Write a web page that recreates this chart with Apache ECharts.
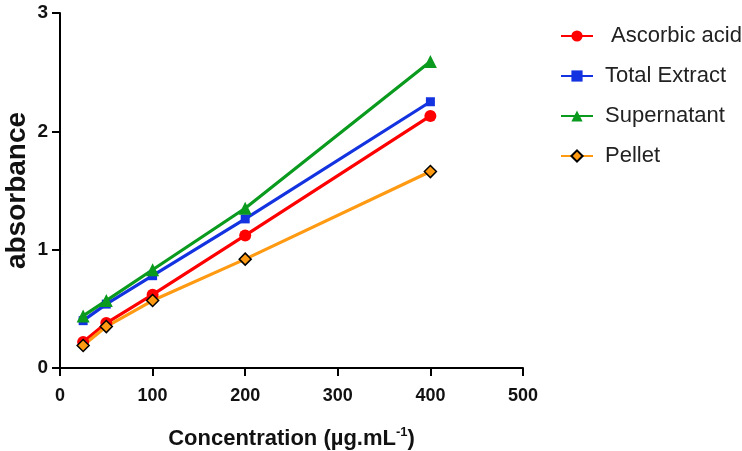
<!DOCTYPE html>
<html><head><meta charset="utf-8">
<script src="https://cdn.jsdelivr.net/npm/echarts@6/dist/echarts.min.js"></script>
<style>html,body{margin:0;padding:0;background:#fff}#c{width:742px;height:451px}</style>
</head><body><div id="c"></div>
<script>
const concentrations = [25, 50, 100, 200, 400];
const ascorbicAcid = [0.22, 0.38, 0.62, 1.12, 2.13];
const totalExtract = [0.40, 0.54, 0.78, 1.26, 2.25];
const supernatant = [0.44, 0.57, 0.83, 1.35, 2.59];
const pellet = [0.19, 0.35, 0.57, 0.92, 1.66];
const seriesNames = [' Ascorbic acid', 'Total Extract', 'Supernatant', 'Pellet'];

const pairs = arr => concentrations.map((x, i) => [x, arr[i]]);
const chart = echarts.init(document.getElementById('c'));
const font = 'Arial, "Liberation Sans", sans-serif';
const mk = (name, data, color, symbol, size, extra) => Object.assign({
  name, type: 'line', data: pairs(data), symbol, symbolSize: size,
  lineStyle: {color, width: 3.2}, itemStyle: {color}, z: 3
}, extra || {});
chart.setOption({
  animation: false,
  grid: {left: 60, right: 219, top: 13, bottom: 83, outerBoundsMode: 'none', containLabel: false},
  legend: {
    orient: 'vertical', left: 555, top: 20, itemGap: 18, itemWidth: 32, itemHeight: 14,
    textStyle: {fontFamily: font, fontSize: 22, color: '#222', padding: [0, 0, 0, 7]},
    data: seriesNames
  },
  xAxis: {
    type: 'value', min: 0, max: 500, interval: 100,
    name: '{a|Concentration (µg.mL}{s|-1}{a|)}', nameLocation: 'middle', nameGap: 58,
    nameMoveOverlap: false,
    nameTextStyle: {rich: {
      a: {fontFamily: font, fontSize: 22, fontWeight: 'bold', color: '#111'},
      s: {fontFamily: font, fontSize: 13, fontWeight: 'bold', color: '#111', verticalAlign: 'top', padding: [0, 0, 12, 0]}
    }},
    axisLine: {lineStyle: {color: '#000', width: 2}},
    axisTick: {show: true, length: 8, lineStyle: {color: '#000', width: 2}},
    axisLabel: {fontFamily: font, fontSize: 18, fontWeight: 'bold', color: '#111', margin: 19},
    splitLine: {show: false}
  },
  yAxis: {
    type: 'value', min: 0, max: 3, interval: 1,
    name: 'absorbance', nameLocation: 'middle', nameGap: 29, nameRotate: 90,
    nameMoveOverlap: false,
    nameTextStyle: {fontFamily: font, fontSize: 28, fontWeight: 'bold', color: '#111'},
    axisLine: {show: true, lineStyle: {color: '#000', width: 2}},
    axisTick: {show: true, length: 8, lineStyle: {color: '#000', width: 2}},
    axisLabel: {fontFamily: font, fontSize: 19, fontWeight: 'bold', color: '#111', margin: 12},
    splitLine: {show: false}
  },
  series: [
    mk(seriesNames[0], ascorbicAcid, '#ff0000', 'circle', 12),
    mk(seriesNames[1], totalExtract, '#1333e0', 'rect', 9),
    mk(seriesNames[2], supernatant, '#0a9a1e', 'triangle', 13),
    mk(seriesNames[3], pellet, '#ff9a12', 'diamond', 12, {
      itemStyle: {color: '#ff9a12', borderColor: '#000', borderWidth: 1.5}
    })
  ]
});
</script></body></html>
